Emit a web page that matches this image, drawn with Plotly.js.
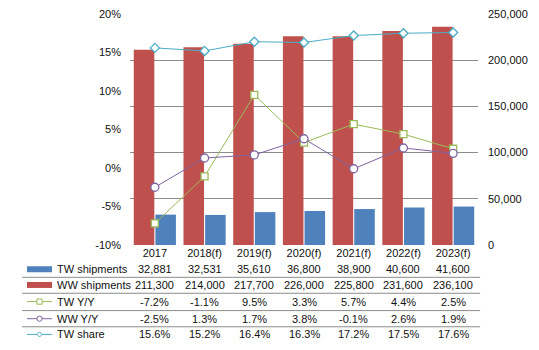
<!DOCTYPE html>
<html>
<head>
<meta charset="utf-8">
<script src="https://cdn.plot.ly/plotly-3.0.1.min.js"></script>
<style>
html,body{margin:0;padding:0;background:#fff;}
#chart{width:539px;height:350px;}
</style>
</head>
<body>
<div id="chart"></div>
<script>
const categories = ['2017','2018(f)','2019(f)','2020(f)','2021(f)','2022(f)','2023(f)'];
const twShipments = [32881, 32531, 35610, 36800, 38900, 40600, 41600];
const wwShipments = [211300, 214000, 217700, 226000, 225800, 231600, 236100];
const twYoY = [-7.2, -1.1, 9.5, 3.3, 5.7, 4.4, 2.5];
const wwYoY = [-2.5, 1.3, 1.7, 3.8, -0.1, 2.6, 1.9];
const twShare = [15.6, 15.2, 16.4, 16.3, 17.2, 17.5, 17.6];
const leftTickVals = [-10, -5, 0, 5, 10, 15, 20];
const leftTickText = ['-10%', '-5%', '0%', '5%', '10%', '15%', '20%'];
const rowLabels = ['TW shipments', 'WW shipments', 'TW Y/Y', 'WW Y/Y', 'TW share'];

const C_TW = '#4F81BD', C_WW = '#C0504D', C_TWY = '#9BBB59', C_WWY = '#8064A2', C_SH = '#4BACC6';
const FONT = 'Liberation Sans, Arial, sans-serif';

const idx = categories.map((c, i) => i);
const fmtNum = v => v.toLocaleString('en-US');
const fmtPct = v => v.toFixed(1) + '%';

const traces = [
  {type:'bar', x:idx, y:wwShipments, yaxis:'y', marker:{color:C_WW}, name:'WW shipments', hoverinfo:'skip'},
  {type:'bar', x:idx, y:twShipments, yaxis:'y', marker:{color:C_TW}, name:'TW shipments', hoverinfo:'skip'},
  {type:'scatter', mode:'lines+markers', x:idx, y:twYoY, yaxis:'y2', line:{color:C_TWY, width:1},
   marker:{symbol:'square', size:7, color:'#fff', line:{color:C_TWY, width:1.3}}, name:'TW Y/Y'},
  {type:'scatter', mode:'lines+markers', x:idx, y:wwYoY, yaxis:'y2', line:{color:C_WWY, width:1},
   marker:{symbol:'circle', size:8, color:'#fff', line:{color:C_WWY, width:1.3}}, name:'WW Y/Y'},
  {type:'scatter', mode:'lines+markers', x:idx, y:twShare, yaxis:'y2', line:{color:C_SH, width:1},
   marker:{symbol:'diamond', size:7, color:'#fff', line:{color:C_SH, width:1.3}}, name:'TW share'}
];

// table geometry (paper coords)
const rowY = [-0.105, -0.173, -0.245, -0.319, -0.387];
const sepY = [-0.140, -0.209, -0.284, -0.354];
const keyX0 = -0.296, keyX1 = -0.224, keyXm = -0.26, labelX = -0.215;
const rowValues = [twShipments.map(fmtNum), wwShipments.map(fmtNum), twYoY.map(fmtPct), wwYoY.map(fmtPct), twShare.map(fmtPct)];

const annotations = [];
const shapes = [];
rowLabels.forEach((lab, r) => {
  annotations.push({xref:'paper', yref:'paper', x:labelX, y:rowY[r], text:lab, showarrow:false,
    xanchor:'left', yanchor:'middle', font:{family:FONT, size:11, color:'#111'}});
  rowValues[r].forEach((v, i) => {
    annotations.push({xref:'x', yref:'paper', x:idx[i], y:rowY[r], text:v, showarrow:false,
      xanchor:'center', yanchor:'middle', font:{family:FONT, size:11, color:'#111'}});
  });
});
sepY.forEach(y => shapes.push({type:'line', xref:'paper', yref:'paper', x0:-0.310, x1:1.006, y0:y, y1:y,
  line:{color:'#8c8c8c', width:1}}));
// legend keys
const hh = 0.013;
shapes.push({type:'rect', xref:'paper', yref:'paper', x0:keyX0, x1:keyX1, y0:rowY[0]-hh, y1:rowY[0]+hh, line:{width:0}, fillcolor:C_TW});
shapes.push({type:'rect', xref:'paper', yref:'paper', x0:keyX0, x1:keyX1, y0:rowY[1]-hh, y1:rowY[1]+hh, line:{width:0}, fillcolor:C_WW});
[[2,C_TWY],[3,C_WWY],[4,C_SH]].forEach(([r,c]) => {
  shapes.push({type:'line', xref:'paper', yref:'paper', x0:keyX0, x1:keyX1, y0:rowY[r], y1:rowY[r], line:{color:c, width:1}});
});
const mx = 0.0075, my = 0.0113;
shapes.push({type:'rect', xref:'paper', yref:'paper', x0:keyXm-mx, x1:keyXm+mx, y0:rowY[2]-my, y1:rowY[2]+my, line:{color:C_TWY, width:1}, fillcolor:'#fff'});
shapes.push({type:'circle', xref:'paper', yref:'paper', x0:keyXm-mx, x1:keyXm+mx, y0:rowY[3]-my, y1:rowY[3]+my, line:{color:C_WWY, width:1}, fillcolor:'#fff'});
{
  const y = rowY[4], dx = 0.0075, dy = 0.0113;
  shapes.push({type:'path', xref:'paper', yref:'paper',
    path:`M ${keyXm-dx} ${y} L ${keyXm} ${y+dy} L ${keyXm+dx} ${y} L ${keyXm} ${y-dy} Z`,
    line:{color:C_SH, width:1}, fillcolor:'#fff'});
}

const layout = {
  width:539, height:350,
  margin:{l:130, r:61, t:14, b:105, pad:0},
  paper_bgcolor:'#fff', plot_bgcolor:'#fff',
  font:{family:FONT, size:11, color:'#111'},
  showlegend:false,
  barmode:'group', bargap:0.13, bargroupgap:0.05,
  xaxis:{range:[-0.5, 6.5], tickvals:idx, ticktext:categories, showgrid:false, zeroline:false, showline:false, ticks:'',
    tickfont:{family:FONT, size:11, color:'#111'}},
  yaxis:{range:[0,250000], dtick:50000, tickformat:',', side:'right', showgrid:true, gridcolor:'#8c8c8c', gridwidth:1,
    zeroline:false, showline:false, ticks:'', ticklabelstandoff:9, tickfont:{family:FONT, size:11, color:'#111'}},
  yaxis2:{range:[-10,20], tickvals:leftTickVals, ticktext:leftTickText, overlaying:'y', side:'left', showgrid:false,
    zeroline:false, showline:false, ticks:'', ticklabelstandoff:8, tickfont:{family:FONT, size:11, color:'#111'}},
  annotations:annotations,
  shapes:shapes
};

Plotly.newPlot('chart', traces, layout, {staticPlot:true, displayModeBar:false});
</script>
</body>
</html>
